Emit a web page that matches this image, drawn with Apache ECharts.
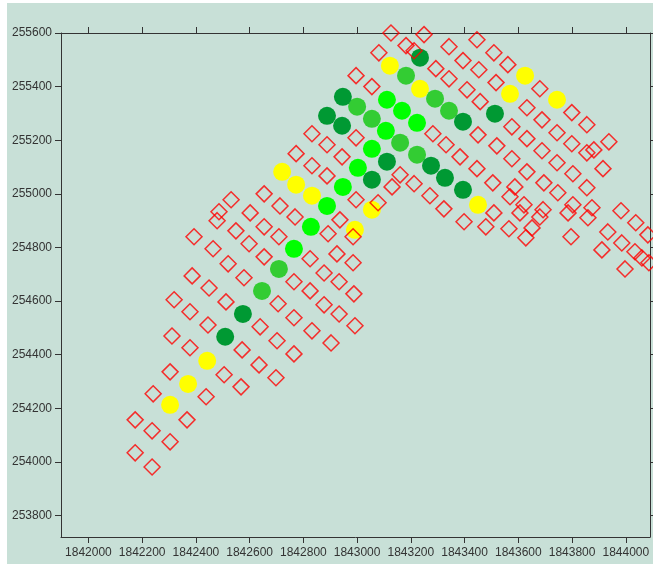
<!DOCTYPE html>
<html>
<head>
<meta charset="utf-8">
<script src="https://cdn.jsdelivr.net/npm/echarts@6/dist/echarts.min.js"></script>
<style>
  html, body { margin: 0; padding: 0; background: #ffffff; }
  #chart { position: absolute; left: 7px; top: 3px; width: 646px; height: 561px; }
</style>
</head>
<body>
<div id="chart"></div>
<script>
// Tick values
const xTickValues = [1842000, 1842200, 1842400, 1842600, 1842800, 1843000, 1843200, 1843400, 1843600, 1843800, 1844000];
const yTickValues = [253800, 254000, 254200, 254400, 254600, 254800, 255000, 255200, 255400, 255600];

// Filled circles by class
const yellowPoints = [
  [1842304, 254213], [1842371, 254291], [1842442, 254377],
  [1842832, 254993], [1842773, 255034], [1842721, 255082],
  [1843122, 255478], [1843234, 255392], [1843450, 254959],
  [1843055, 254941], [1842992, 254866], [1843625, 255441],
  [1843569, 255373], [1843744, 255351]
];
const brightGreenPoints = [
  [1842765, 254795], [1842828, 254877], [1842888, 254955],
  [1842947, 255026], [1843003, 255097], [1843055, 255168],
  [1843107, 255235], [1843167, 255310], [1843223, 255265],
  [1843111, 255351]
];
const mediumGreenPoints = [
  [1842646, 254638], [1842709, 254720], [1843182, 255441],
  [1843290, 255355], [1843342, 255310], [1843000, 255325],
  [1843055, 255280], [1843160, 255191], [1843223, 255146]
];
const darkGreenPoints = [
  [1842509, 254467], [1842575, 254552], [1843234, 255508],
  [1843394, 255269], [1842947, 255362], [1842888, 255291],
  [1842944, 255254], [1843275, 255105], [1843327, 255060],
  [1843394, 255015], [1843111, 255120], [1843055, 255053],
  [1843513, 255299]
];

// Hollow diamonds
const diamondPoints = [
  [1842174, 254157], [1842367, 254157], [1842237, 254116], [1842304, 254075],
  [1842174, 254034], [1842237, 253981], [1842241, 254254], [1842438, 254243],
  [1842304, 254336], [1842505, 254325], [1842568, 254280], [1842311, 254470],
  [1842378, 254426], [1842572, 254418], [1842635, 254362], [1842698, 254314],
  [1842319, 254605], [1842378, 254560], [1842445, 254511], [1842639, 254504],
  [1842702, 254452], [1842765, 254403], [1842386, 254694], [1842449, 254649],
  [1842579, 254687], [1842512, 254597], [1842706, 254590], [1842765, 254672],
  [1842765, 254538], [1842393, 254840], [1842464, 254795], [1842598, 254814],
  [1842520, 254739], [1842654, 254765], [1842709, 254840], [1842531, 254978],
  [1842654, 255000], [1842713, 254955], [1842769, 254914], [1842486, 254933],
  [1842479, 254900], [1842602, 254929], [1842549, 254862], [1842654, 254877],
  [1842832, 255224], [1842888, 255183], [1842996, 255209], [1842773, 255150],
  [1842832, 255105], [1842944, 255138], [1842888, 255067], [1843160, 255071],
  [1843130, 255026], [1843212, 255038], [1843271, 254993], [1842996, 254978],
  [1843078, 254967], [1842936, 254903], [1842892, 254851], [1842985, 254840],
  [1842925, 254776], [1842985, 254743], [1842825, 254758], [1842877, 254705],
  [1842933, 254672], [1842988, 254627], [1842825, 254638], [1842877, 254586],
  [1842933, 254552], [1842992, 254508], [1842832, 254489], [1842903, 254444],
  [1843126, 255600], [1843249, 255594], [1843081, 255526], [1843182, 255553],
  [1843212, 255534], [1843342, 255549], [1843394, 255497], [1843446, 255575],
  [1843293, 255467], [1843342, 255429], [1843409, 255388], [1843453, 255463],
  [1843458, 255344], [1842996, 255441], [1843055, 255400], [1843509, 255526],
  [1843561, 255482], [1843517, 255415], [1843680, 255392], [1843632, 255321],
  [1843799, 255303], [1843855, 255258], [1843688, 255276], [1843576, 255250],
  [1843450, 255220], [1843520, 255179], [1843632, 255206], [1843744, 255228],
  [1843799, 255187], [1843855, 255153], [1843881, 255164], [1843937, 255194],
  [1843688, 255161], [1843576, 255131], [1843446, 255094], [1843505, 255041],
  [1843632, 255082], [1843744, 255116], [1843803, 255075], [1843915, 255094],
  [1843855, 255023], [1843695, 255041], [1843587, 255026], [1843569, 254989],
  [1843621, 254959], [1843606, 254929], [1843692, 254941], [1843680, 254914],
  [1843651, 254873], [1843628, 254836], [1843509, 254929], [1843479, 254877],
  [1843565, 254870], [1843747, 255004], [1843803, 254959], [1843785, 254929],
  [1843859, 254911], [1843874, 254948], [1843796, 254840], [1843982, 254937],
  [1844037, 254892], [1844082, 254847], [1843933, 254858], [1843985, 254817],
  [1843911, 254791], [1844034, 254784], [1844060, 254761], [1844086, 254743],
  [1843997, 254720], [1843282, 255224], [1843331, 255183], [1843383, 255138],
  [1843323, 254944], [1843398, 254896]
];

const axisColor = '#333333';
const labelFont = { color: '#333333', fontSize: 12, fontFamily: 'Liberation Sans, Arial, sans-serif' };
const plainNumber = function (v) { return String(Math.round(v)); };

function xAxisDef(pos, showLabel) {
  return {
    type: 'value', position: pos, min: 1841898, max: 1844090,
    axisLine: { show: true, onZero: false, lineStyle: { color: axisColor, width: 1 } },
    axisTick: { show: true, inside: false, length: 6, lineStyle: { color: axisColor, width: 1 }, customValues: xTickValues },
    axisLabel: Object.assign({ show: showLabel, margin: 10, customValues: xTickValues, formatter: plainNumber }, labelFont),
    splitLine: { show: false }
  };
}
function yAxisDef(pos, showLabel) {
  return {
    type: 'value', position: pos, min: 253720, max: 255600,
    axisLine: { show: true, onZero: false, lineStyle: { color: axisColor, width: 1 } },
    axisTick: { show: true, inside: false, length: 6, lineStyle: { color: axisColor, width: 1 }, customValues: yTickValues },
    axisLabel: Object.assign({ show: showLabel, margin: 9, customValues: yTickValues, formatter: plainNumber }, labelFont),
    splitLine: { show: false }
  };
}

function circleSeries(data, color) {
  return {
    type: 'scatter', data: data, symbol: 'circle', symbolSize: 18,
    itemStyle: { color: color, opacity: 1 }, emphasis: { disabled: true }, z: 2
  };
}

const chart = echarts.init(document.getElementById('chart'), null, { renderer: 'canvas' });
chart.setOption({
  animation: false,
  backgroundColor: '#c8e0d7',
  grid: { left: 54, top: 30, right: 3, bottom: 27, containLabel: false },
  xAxis: [xAxisDef('bottom', true), xAxisDef('top', false)],
  yAxis: [yAxisDef('left', true), yAxisDef('right', false)],
  series: [
    circleSeries(yellowPoints, '#ffff00'),
    circleSeries(brightGreenPoints, '#00ff00'),
    circleSeries(mediumGreenPoints, '#33cc33'),
    circleSeries(darkGreenPoints, '#009933'),
    {
      type: 'scatter', data: diamondPoints, symbol: 'diamond', symbolSize: 16,
      itemStyle: { color: 'rgba(0,0,0,0)', borderColor: '#ff0000', borderWidth: 1.5 },
      emphasis: { disabled: true }, z: 3
    }
  ]
});
</script>
</body>
</html>
